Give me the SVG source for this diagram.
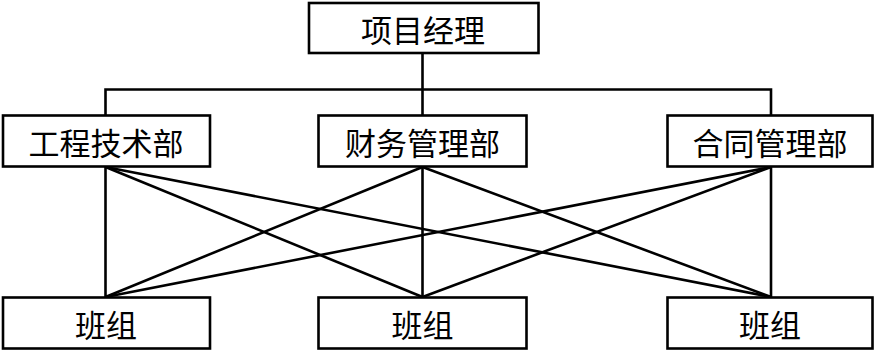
<svg xmlns="http://www.w3.org/2000/svg" width="877" height="351" viewBox="0 0 877 351">
<style>
.box{fill:#fff;stroke:#000;stroke-width:2.6}
.t{font-family:"Noto Sans CJK SC","Noto Sans",sans-serif;font-size:31px;fill:#000;text-anchor:middle;dominant-baseline:central}
.c line,.c polyline{stroke:#000;stroke-width:2.6;fill:none}
</style>
<rect width="877" height="351" fill="#fff"/>
<g class="c" id="connectors">
<line x1="422.5" y1="53" x2="422.5" y2="89.5"/>
<polyline points="105.5,115 105.5,89.5 771,89.5 771,115"/>
<line x1="422.5" y1="89.5" x2="422.5" y2="115"/>
<line x1="105.5" y1="167" x2="105.5" y2="297"/>
<line x1="105.5" y1="167" x2="422.5" y2="297"/>
<line x1="105.5" y1="167" x2="771" y2="297"/>
<line x1="422.5" y1="167" x2="105.5" y2="297"/>
<line x1="422.5" y1="167" x2="422.5" y2="297"/>
<line x1="422.5" y1="167" x2="771" y2="297"/>
<line x1="771" y1="167" x2="105.5" y2="297"/>
<line x1="771" y1="167" x2="422.5" y2="297"/>
<line x1="771" y1="167" x2="771" y2="297"/>
</g>
<g id="pm"><rect class="box" x="309" y="3" width="229.5" height="50"/><text class="t" x="423" y="28">项目经理</text></g>
<g id="eng"><rect class="box" x="3" y="115.5" width="207" height="51"/><text class="t" x="106" y="141">工程技术部</text></g>
<g id="fin"><rect class="box" x="318.5" y="115.5" width="208" height="51"/><text class="t" x="422.5" y="141">财务管理部</text></g>
<g id="con"><rect class="box" x="667.5" y="115.5" width="205" height="51"/><text class="t" x="770" y="141">合同管理部</text></g>
<g id="team1"><rect class="box" x="3" y="297.5" width="207" height="51"/><text class="t" x="106" y="323">班组</text></g>
<g id="team2"><rect class="box" x="318.5" y="297.5" width="208" height="51"/><text class="t" x="422.5" y="323">班组</text></g>
<g id="team3"><rect class="box" x="667.5" y="297.5" width="205" height="51"/><text class="t" x="770" y="323">班组</text></g>
</svg>
